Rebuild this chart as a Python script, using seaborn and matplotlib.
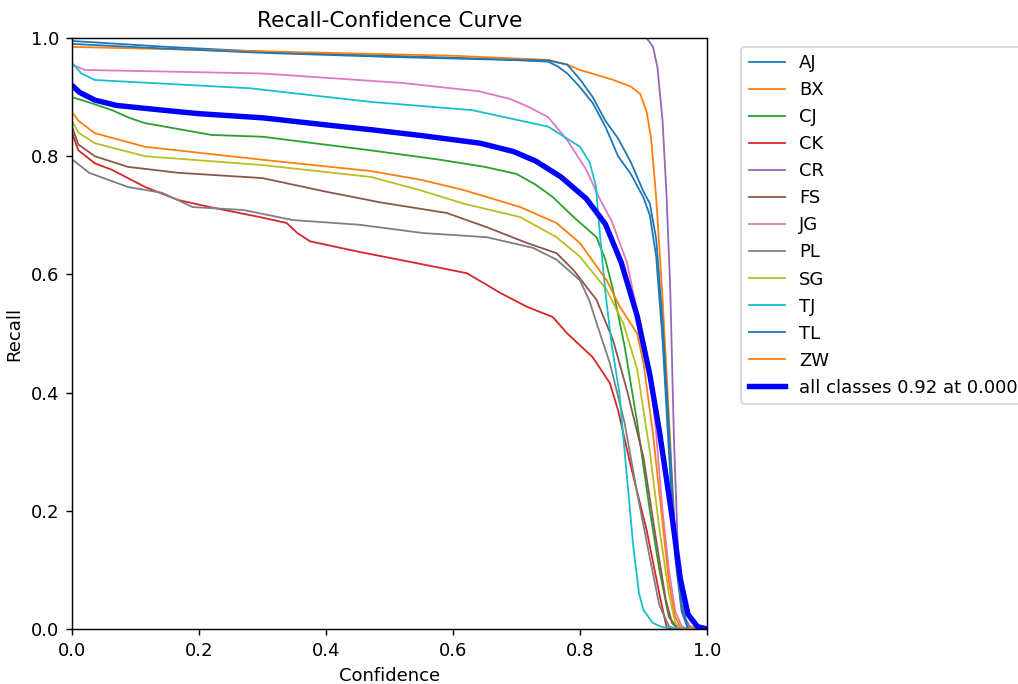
"""Recall-confidence curve per class, YOLO style."""
import matplotlib

matplotlib.use("Agg")
import matplotlib.pyplot as plt
import numpy as np
import seaborn as sns

# (confidence, recall) points
AJ = [(0, 0.995), (0.15, 0.985), (0.3, 0.977), (0.5, 0.97), (0.65, 0.965), (0.75, 0.96),
      (0.765, 0.952), (0.78, 0.94), (0.8, 0.917), (0.82, 0.89), (0.84, 0.85), (0.86, 0.80),
      (0.88, 0.77), (0.9, 0.73), (0.91, 0.70), (0.92, 0.63), (0.93, 0.49), (0.94, 0.3),
      (0.95, 0.12), (0.96, 0.03), (0.97, 0.0), (1.0, 0.0)]
BX = [(0, 0.985), (0.2, 0.98), (0.4, 0.975), (0.6, 0.97), (0.75, 0.963), (0.78, 0.955),
      (0.8, 0.946), (0.85, 0.93), (0.88, 0.918), (0.895, 0.905), (0.905, 0.875), (0.912, 0.83),
      (0.92, 0.73), (0.93, 0.56), (0.94, 0.36), (0.95, 0.15), (0.96, 0.04), (0.97, 0.005),
      (1.0, 0.0)]
CJ = [(0, 0.9), (0.03, 0.89), (0.063, 0.878), (0.09, 0.865), (0.115, 0.856), (0.22, 0.836),
      (0.3, 0.833), (0.47, 0.81), (0.58, 0.794), (0.65, 0.782), (0.7, 0.77), (0.73, 0.752),
      (0.757, 0.731), (0.79, 0.697), (0.826, 0.663), (0.84, 0.625), (0.852, 0.574),
      (0.87, 0.48), (0.89, 0.35), (0.91, 0.2), (0.925, 0.1), (0.94, 0.02), (0.955, 0.0),
      (1.0, 0.0)]
CK = [(0, 0.84), (0.01, 0.81), (0.036, 0.788), (0.063, 0.777), (0.115, 0.748), (0.167, 0.726),
      (0.217, 0.714), (0.296, 0.697), (0.338, 0.687), (0.355, 0.67), (0.375, 0.656),
      (0.453, 0.638), (0.543, 0.619), (0.622, 0.602), (0.674, 0.569), (0.717, 0.545),
      (0.757, 0.528), (0.78, 0.5), (0.82, 0.46), (0.847, 0.416), (0.86, 0.37), (0.879, 0.28),
      (0.905, 0.167), (0.926, 0.054), (0.937, 0.0), (1.0, 0.0)]
CR = [(0, 1.0), (0.905, 1.0), (0.915, 0.985), (0.922, 0.95), (0.93, 0.86), (0.936, 0.74),
      (0.942, 0.58), (0.948, 0.32), (0.955, 0.11), (0.965, 0.02), (0.975, 0.0), (1.0, 0.0)]
FS = [(0, 0.85), (0.01, 0.82), (0.036, 0.80), (0.088, 0.782), (0.167, 0.772), (0.3, 0.763),
      (0.4, 0.74), (0.485, 0.722), (0.59, 0.704), (0.653, 0.68), (0.717, 0.653),
      (0.763, 0.636), (0.79, 0.607), (0.826, 0.557), (0.852, 0.489), (0.874, 0.404),
      (0.9, 0.29), (0.92, 0.15), (0.935, 0.05), (0.945, 0.01), (0.955, 0.0), (1.0, 0.0)]
JG = [(0, 0.955), (0.02, 0.946), (0.3, 0.94), (0.52, 0.924), (0.64, 0.91), (0.69, 0.897),
      (0.72, 0.883), (0.75, 0.866), (0.78, 0.827), (0.81, 0.777), (0.83, 0.73), (0.85, 0.69),
      (0.874, 0.62), (0.894, 0.518), (0.91, 0.433), (0.92, 0.33), (0.93, 0.2), (0.94, 0.1),
      (0.95, 0.03), (0.96, 0.005), (0.97, 0.0), (1.0, 0.0)]
PL = [(0, 0.795), (0.027, 0.772), (0.088, 0.748), (0.142, 0.738), (0.19, 0.714), (0.27, 0.709),
      (0.348, 0.692), (0.453, 0.684), (0.553, 0.67), (0.653, 0.663), (0.726, 0.645),
      (0.763, 0.625), (0.8, 0.59), (0.815, 0.555), (0.826, 0.518), (0.847, 0.45), (0.87, 0.35),
      (0.89, 0.23), (0.91, 0.12), (0.925, 0.04), (0.94, 0.005), (0.95, 0.0), (1.0, 0.0)]
SG = [(0, 0.86), (0.01, 0.84), (0.036, 0.822), (0.115, 0.8), (0.3, 0.785), (0.47, 0.765),
      (0.55, 0.742), (0.616, 0.72), (0.706, 0.697), (0.763, 0.663), (0.8, 0.63),
      (0.842, 0.574), (0.868, 0.518), (0.89, 0.44), (0.91, 0.3), (0.925, 0.17), (0.94, 0.06),
      (0.95, 0.01), (0.96, 0.0), (1.0, 0.0)]
TJ = [(0, 0.958), (0.015, 0.94), (0.036, 0.929), (0.28, 0.915), (0.47, 0.892), (0.63, 0.878),
      (0.75, 0.85), (0.8, 0.816), (0.815, 0.79), (0.825, 0.75), (0.832, 0.66), (0.84, 0.57),
      (0.85, 0.48), (0.862, 0.4), (0.872, 0.28), (0.884, 0.139), (0.893, 0.06), (0.9, 0.032),
      (0.915, 0.01), (0.93, 0.003), (1.0, 0.0)]
TL = [(0, 0.99), (0.15, 0.982), (0.3, 0.975), (0.5, 0.968), (0.65, 0.964), (0.75, 0.962),
      (0.78, 0.955), (0.8, 0.93), (0.82, 0.9), (0.84, 0.86), (0.86, 0.83), (0.88, 0.79),
      (0.9, 0.74), (0.91, 0.72), (0.92, 0.66), (0.93, 0.52), (0.94, 0.34), (0.95, 0.15),
      (0.96, 0.04), (0.97, 0.0), (1.0, 0.0)]
ZW = [(0, 0.875), (0.01, 0.86), (0.036, 0.839), (0.115, 0.816), (0.3, 0.794), (0.47, 0.775),
      (0.55, 0.76), (0.616, 0.743), (0.706, 0.714), (0.763, 0.687), (0.8, 0.653),
      (0.842, 0.59), (0.863, 0.545), (0.89, 0.5), (0.9, 0.45), (0.915, 0.33), (0.93, 0.18),
      (0.94, 0.08), (0.95, 0.02), (0.96, 0.0), (1.0, 0.0)]
ALL = [(0, 0.92), (0.012, 0.908), (0.036, 0.895), (0.07, 0.886), (0.142, 0.878), (0.2, 0.872),
       (0.3, 0.865), (0.4, 0.853), (0.47, 0.845), (0.55, 0.835), (0.643, 0.822),
       (0.695, 0.808), (0.73, 0.792), (0.77, 0.765), (0.81, 0.728), (0.84, 0.685),
       (0.865, 0.62), (0.89, 0.53), (0.91, 0.43), (0.925, 0.335), (0.945, 0.19),
       (0.958, 0.085), (0.97, 0.025), (0.985, 0.004), (1.0, 0.0)]

class_names = ["AJ", "BX", "CJ", "CK", "CR", "FS", "JG", "PL", "SG", "TJ", "TL", "ZW"]
class_curves = [AJ, BX, CJ, CK, CR, FS, JG, PL, SG, TJ, TL, ZW]
all_label = "all classes 0.92 at 0.000"

dpi = 130
fig, ax = plt.subplots(figsize=(1018 / dpi, 684 / dpi), dpi=dpi)
fig.subplots_adjust(left=0.0707, right=0.6945, bottom=0.0804, top=0.9444)

colors = sns.color_palette("tab10", 10)
for i, (name, pts) in enumerate(zip(class_names, class_curves)):
    arr = np.array(pts)
    sns.lineplot(x=arr[:, 0], y=arr[:, 1], ax=ax, color=colors[i % 10], linewidth=1,
                 label=name, sort=False, estimator=None)

arr = np.array(ALL)
sns.lineplot(x=arr[:, 0], y=arr[:, 1], ax=ax, color="blue", linewidth=3,
             label=all_label, sort=False, estimator=None)

ax.set_xlabel("Confidence")
ax.set_ylabel("Recall")
ax.set_xlim(0, 1)
ax.set_ylim(0, 1)
ax.legend(bbox_to_anchor=(1.04, 1), loc="upper left")
ax.set_title("Recall-Confidence Curve")

fig.savefig("out.png", dpi=dpi)
